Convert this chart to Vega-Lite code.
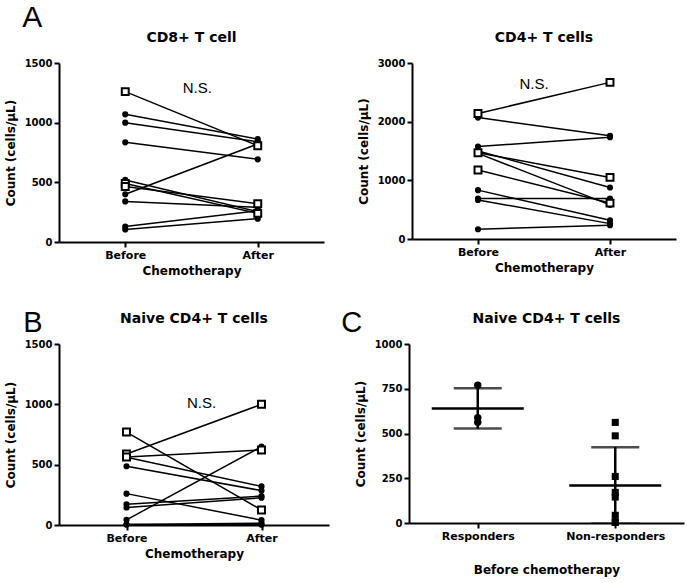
{
  "$schema": "https://vega.github.io/schema/vega-lite/v6.json",
  "padding": {"left": 4, "top": 3, "right": 4, "bottom": 3},
  "background": "white",
  "config": {
    "view": {"stroke": null},
    "font": "DejaVu Sans",
    "title": {"font": "DejaVu Sans", "fontSize": 14, "fontWeight": "bold", "color": "black", "offset": 13},
    "axis": {"labelFont": "DejaVu Sans", "labelFontWeight": "bold", "labelColor": "black", "titleFont": "DejaVu Sans", "titleFontWeight": "bold", "titleFontSize": 12, "titleColor": "black", "domainColor": "black", "domainWidth": 2, "tickColor": "black", "tickWidth": 2, "tickSize": 5, "grid": false},
    "axisY": {"labelFontSize": 10, "labelPadding": 2, "titlePadding": 7, "format": "d"},
    "axisX": {"labelFontSize": 11, "labelPadding": 2, "titlePadding": 5, "labelAngle": 0}
  },
  "datasets": {
    "cd8": [
      {"subject": "R1", "grp": "r", "time": "Before", "count": 1260}, {"subject": "R1", "grp": "r", "time": "After", "count": 807},
      {"subject": "R2", "grp": "r", "time": "Before", "count": 490}, {"subject": "R2", "grp": "r", "time": "After", "count": 240},
      {"subject": "R3", "grp": "r", "time": "Before", "count": 465}, {"subject": "R3", "grp": "r", "time": "After", "count": 320},
      {"subject": "N1", "grp": "n", "time": "Before", "count": 1070}, {"subject": "N1", "grp": "n", "time": "After", "count": 862},
      {"subject": "N2", "grp": "n", "time": "Before", "count": 1000}, {"subject": "N2", "grp": "n", "time": "After", "count": 840},
      {"subject": "N3", "grp": "n", "time": "Before", "count": 835}, {"subject": "N3", "grp": "n", "time": "After", "count": 693},
      {"subject": "N4", "grp": "n", "time": "Before", "count": 400}, {"subject": "N4", "grp": "n", "time": "After", "count": 822},
      {"subject": "N5", "grp": "n", "time": "Before", "count": 520}, {"subject": "N5", "grp": "n", "time": "After", "count": 255},
      {"subject": "N6", "grp": "n", "time": "Before", "count": 340}, {"subject": "N6", "grp": "n", "time": "After", "count": 290},
      {"subject": "N7", "grp": "n", "time": "Before", "count": 130}, {"subject": "N7", "grp": "n", "time": "After", "count": 262},
      {"subject": "N8", "grp": "n", "time": "Before", "count": 105}, {"subject": "N8", "grp": "n", "time": "After", "count": 195}
    ],
    "cd4": [
      {"subject": "R1", "grp": "r", "time": "Before", "count": 2140}, {"subject": "R1", "grp": "r", "time": "After", "count": 2670},
      {"subject": "R2", "grp": "r", "time": "Before", "count": 1470}, {"subject": "R2", "grp": "r", "time": "After", "count": 1050},
      {"subject": "R3", "grp": "r", "time": "Before", "count": 1175}, {"subject": "R3", "grp": "r", "time": "After", "count": 612},
      {"subject": "N1", "grp": "n", "time": "Before", "count": 2070}, {"subject": "N1", "grp": "n", "time": "After", "count": 1760},
      {"subject": "N2", "grp": "n", "time": "Before", "count": 1575}, {"subject": "N2", "grp": "n", "time": "After", "count": 1735},
      {"subject": "N3", "grp": "n", "time": "Before", "count": 1500}, {"subject": "N3", "grp": "n", "time": "After", "count": 878},
      {"subject": "N4", "grp": "n", "time": "Before", "count": 1460}, {"subject": "N4", "grp": "n", "time": "After", "count": 582},
      {"subject": "N5", "grp": "n", "time": "Before", "count": 833}, {"subject": "N5", "grp": "n", "time": "After", "count": 320},
      {"subject": "N6", "grp": "n", "time": "Before", "count": 690}, {"subject": "N6", "grp": "n", "time": "After", "count": 690},
      {"subject": "N7", "grp": "n", "time": "Before", "count": 665}, {"subject": "N7", "grp": "n", "time": "After", "count": 262},
      {"subject": "N8", "grp": "n", "time": "Before", "count": 166}, {"subject": "N8", "grp": "n", "time": "After", "count": 234}
    ],
    "naive": [
      {"subject": "R1", "grp": "r", "time": "Before", "count": 770}, {"subject": "R1", "grp": "r", "time": "After", "count": 124},
      {"subject": "R2", "grp": "r", "time": "Before", "count": 588}, {"subject": "R2", "grp": "r", "time": "After", "count": 1000},
      {"subject": "R3", "grp": "r", "time": "Before", "count": 563}, {"subject": "R3", "grp": "r", "time": "After", "count": 622},
      {"subject": "N1", "grp": "n", "time": "Before", "count": 562}, {"subject": "N1", "grp": "n", "time": "After", "count": 320},
      {"subject": "N2", "grp": "n", "time": "Before", "count": 487}, {"subject": "N2", "grp": "n", "time": "After", "count": 285},
      {"subject": "N3", "grp": "n", "time": "Before", "count": 260}, {"subject": "N3", "grp": "n", "time": "After", "count": 40},
      {"subject": "N4", "grp": "n", "time": "Before", "count": 171}, {"subject": "N4", "grp": "n", "time": "After", "count": 240},
      {"subject": "N5", "grp": "n", "time": "Before", "count": 145}, {"subject": "N5", "grp": "n", "time": "After", "count": 226},
      {"subject": "N6", "grp": "n", "time": "Before", "count": 43}, {"subject": "N6", "grp": "n", "time": "After", "count": 650},
      {"subject": "N7", "grp": "n", "time": "Before", "count": 4}, {"subject": "N7", "grp": "n", "time": "After", "count": 15},
      {"subject": "N8", "grp": "n", "time": "Before", "count": 4}, {"subject": "N8", "grp": "n", "time": "After", "count": 3}
    ],
    "baseline": [
      {"group": "Responders", "count": 770}, {"group": "Responders", "count": 563}, {"group": "Responders", "count": 588},
      {"group": "Non-responders", "count": 562}, {"group": "Non-responders", "count": 487}, {"group": "Non-responders", "count": 260},
      {"group": "Non-responders", "count": 171}, {"group": "Non-responders", "count": 145}, {"group": "Non-responders", "count": 43},
      {"group": "Non-responders", "count": 4}, {"group": "Non-responders", "count": 4}
    ]
  },
  "vconcat": [
    {
      "title": {"text": "A", "anchor": "start", "frame": "bounds", "font": "Liberation Sans", "fontSize": 30, "fontWeight": "normal", "color": "black", "offset": -2, "dx": 18},
      "hconcat": [
        {
          "width": 265, "height": 179,
          "title": "CD8+ T cell",
          "data": {"name": "cd8"},
          "encoding": {
            "x": {"field": "time", "type": "nominal", "scale": {"type": "point", "domain": ["Before", "After"], "padding": 0.5}, "axis": {"title": "Chemotherapy"}},
            "y": {"field": "count", "type": "quantitative", "scale": {"domain": [0, 1500]}, "axis": {"title": "Count (cells/μL)", "values": [0, 500, 1000, 1500]}}
          },
          "layer": [
            {"mark": {"type": "line", "color": "black", "strokeWidth": 1.5}, "encoding": {"detail": {"field": "subject"}}},
            {"transform": [{"filter": "datum.grp == 'n'"}], "mark": {"type": "point", "shape": "circle", "filled": true, "color": "black", "size": 38, "opacity": 1}},
            {"transform": [{"filter": "datum.grp == 'r'"}], "mark": {"type": "point", "shape": "square", "filled": true, "fill": "white", "stroke": "black", "strokeWidth": 2, "size": 48, "opacity": 1}},
            {"data": {"values": [{"label": "N.S.", "count": 1290}]}, "mark": {"type": "text", "font": "Liberation Sans", "fontSize": 15, "color": "black", "dx": 72}, "encoding": {"x": {"datum": "Before"}, "text": {"field": "label"}}}
          ]
        },
        {
          "width": 264, "height": 176,
          "title": "CD4+ T cells",
          "data": {"name": "cd4"},
          "encoding": {
            "x": {"field": "time", "type": "nominal", "scale": {"type": "point", "domain": ["Before", "After"], "padding": 0.5}, "axis": {"title": "Chemotherapy"}},
            "y": {"field": "count", "type": "quantitative", "scale": {"domain": [0, 3000]}, "axis": {"title": "Count (cells/μL)", "values": [0, 1000, 2000, 3000]}}
          },
          "layer": [
            {"mark": {"type": "line", "color": "black", "strokeWidth": 1.5}, "encoding": {"detail": {"field": "subject"}}},
            {"transform": [{"filter": "datum.grp == 'n'"}], "mark": {"type": "point", "shape": "circle", "filled": true, "color": "black", "size": 38, "opacity": 1}},
            {"transform": [{"filter": "datum.grp == 'r'"}], "mark": {"type": "point", "shape": "square", "filled": true, "fill": "white", "stroke": "black", "strokeWidth": 2, "size": 48, "opacity": 1}},
            {"data": {"values": [{"label": "N.S.", "count": 2650}]}, "mark": {"type": "text", "font": "Liberation Sans", "fontSize": 15, "color": "black", "dx": 56}, "encoding": {"x": {"datum": "Before"}, "text": {"field": "label"}}}
          ]
        }
      ],
      "spacing": 33
    },
    {
      "hconcat": [
        {
          "title": {"text": "B", "anchor": "start", "frame": "bounds", "font": "Liberation Sans", "fontSize": 29, "fontWeight": "normal", "color": "black", "offset": -26, "dx": 19},
          "vconcat": [
            {
              "width": 270, "height": 181,
              "title": "Naive CD4+ T cells",
              "data": {"name": "naive"},
              "encoding": {
                "x": {"field": "time", "type": "nominal", "scale": {"type": "point", "domain": ["Before", "After"], "padding": 0.5}, "axis": {"title": "Chemotherapy"}},
                "y": {"field": "count", "type": "quantitative", "scale": {"domain": [0, 1500]}, "axis": {"title": "Count (cells/μL)", "values": [0, 500, 1000, 1500]}}
              },
              "layer": [
                {"mark": {"type": "line", "color": "black", "strokeWidth": 1.5}, "encoding": {"detail": {"field": "subject"}}},
                {"transform": [{"filter": "datum.grp == 'n'"}], "mark": {"type": "point", "shape": "circle", "filled": true, "color": "black", "size": 38, "opacity": 1}},
                {"transform": [{"filter": "datum.grp == 'r'"}], "mark": {"type": "point", "shape": "square", "filled": true, "fill": "white", "stroke": "black", "strokeWidth": 2, "size": 48, "opacity": 1}},
                {"data": {"values": [{"label": "N.S.", "count": 1010}]}, "mark": {"type": "text", "font": "Liberation Sans", "fontSize": 15, "color": "black", "dx": 75}, "encoding": {"x": {"datum": "Before"}, "text": {"field": "label"}}}
              ]
            }
          ]
        },
        {
          "title": {"text": "C", "anchor": "start", "frame": "bounds", "font": "Liberation Sans", "fontSize": 29, "fontWeight": "normal", "color": "black", "offset": -26, "dx": -13},
          "vconcat": [
            {
              "width": 275, "height": 179,
              "title": "Naive CD4+ T cells",
              "data": {"name": "baseline"},
              "encoding": {
                "x": {"field": "group", "type": "nominal", "scale": {"type": "point", "domain": ["Responders", "Non-responders"], "padding": 0.5}, "axis": {"title": "Before chemotherapy", "titlePadding": 23}}
              },
              "layer": [
                {"mark": {"type": "errorbar", "extent": "stdev", "color": "black", "thickness": 2.5, "clip": true, "ticks": {"size": 48, "thickness": 2.5, "color": "black"}},
                 "encoding": {"y": {"field": "count", "type": "quantitative", "scale": {"domain": [0, 1000]}, "axis": {"title": "Count (cells/μL)", "values": [0, 250, 500, 750, 1000]}}}},
                {"mark": {"type": "tick", "color": "black", "thickness": 2.5, "size": 92},
                 "encoding": {"y": {"aggregate": "mean", "field": "count", "type": "quantitative", "scale": {"domain": [0, 1000]}, "axis": {"title": "Count (cells/μL)", "values": [0, 250, 500, 750, 1000]}}}},
                {"transform": [{"filter": "datum.group == 'Responders'"}], "mark": {"type": "point", "shape": "circle", "filled": true, "color": "black", "size": 55, "opacity": 1},
                 "encoding": {"y": {"field": "count", "type": "quantitative", "scale": {"domain": [0, 1000]}, "axis": {"title": "Count (cells/μL)", "values": [0, 250, 500, 750, 1000]}}}},
                {"transform": [{"filter": "datum.group == 'Non-responders'"}], "mark": {"type": "point", "shape": "square", "filled": true, "color": "black", "size": 50, "opacity": 1},
                 "encoding": {"y": {"field": "count", "type": "quantitative", "scale": {"domain": [0, 1000]}, "axis": {"title": "Count (cells/μL)", "values": [0, 250, 500, 750, 1000]}}}}
              ]
            }
          ]
        }
      ],
      "spacing": 12
    }
  ],
  "spacing": 33
}
